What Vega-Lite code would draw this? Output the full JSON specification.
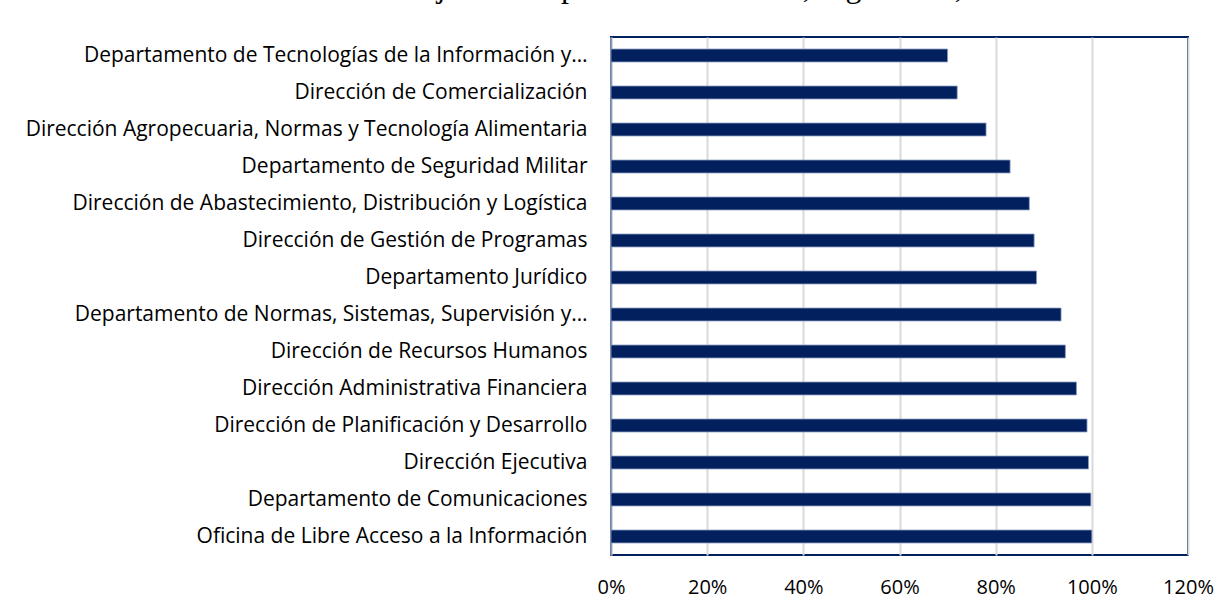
{
  "$schema": "https://vega.github.io/schema/vega-lite/v6.json",
  "autosize": "none",
  "width": 577,
  "height": 518,
  "padding": {"left": 611, "top": 37, "right": 43, "bottom": 54},
  "background": "white",
  "title": {
    "text": "Gráfico 2. Porcentaje de cumplimiento del POA, según área, 2024.",
    "font": "Liberation Serif",
    "fontSize": 32,
    "fontWeight": "normal",
    "color": "#000000",
    "anchor": "start",
    "frame": "group",
    "baseline": "alphabetic",
    "offset": 8,
    "dx": -424
  },
  "data": {
    "values": [
      {"area": "Departamento de Tecnologías de la Información y…", "pct": 0.70},
      {"area": "Dirección de Comercialización", "pct": 0.72},
      {"area": "Dirección Agropecuaria, Normas y Tecnología Alimentaria", "pct": 0.78},
      {"area": "Departamento de Seguridad Militar", "pct": 0.83},
      {"area": "Dirección de Abastecimiento, Distribución y Logística", "pct": 0.87},
      {"area": "Dirección de Gestión de Programas", "pct": 0.88},
      {"area": "Departamento Jurídico", "pct": 0.885},
      {"area": "Departamento de Normas, Sistemas, Supervisión y…", "pct": 0.936},
      {"area": "Dirección de Recursos Humanos", "pct": 0.945},
      {"area": "Dirección Administrativa Financiera", "pct": 0.968},
      {"area": "Dirección de Planificación y Desarrollo", "pct": 0.99},
      {"area": "Dirección Ejecutiva", "pct": 0.993},
      {"area": "Departamento de Comunicaciones", "pct": 0.998},
      {"area": "Oficina de Libre Acceso a la Información", "pct": 1.0}
    ]
  },
  "mark": {"type": "bar", "color": "#02205e", "stroke": "#8a9cc2", "strokeWidth": 0.8},
  "encoding": {
    "y": {
      "field": "area",
      "type": "nominal",
      "sort": null,
      "title": null,
      "scale": {"paddingInner": 0.65, "paddingOuter": 0.325},
      "axis": {
        "ticks": false,
        "labelPadding": 24,
        "labelLimit": 0,
        "labelFont": "Open Sans",
        "labelFontSize": 21,
        "labelColor": "#000000",
        "domainColor": "#8a9cc2",
        "domainWidth": 1.5,
        "grid": false
      }
    },
    "x": {
      "field": "pct",
      "type": "quantitative",
      "title": null,
      "scale": {"domain": [0, 1.2], "nice": false},
      "axis": {
        "values": [0, 0.2, 0.4, 0.6, 0.8, 1.0, 1.2],
        "format": ".0%",
        "ticks": false,
        "domain": false,
        "labelFlush": false,
        "labelPadding": 22,
        "labelFont": "Open Sans",
        "labelFontSize": 20,
        "labelColor": "#000000",
        "gridColor": "#d9d9d9",
        "gridWidth": 2
      }
    }
  },
  "config": {
    "view": {"stroke": "#002060", "strokeWidth": 2}
  }
}
